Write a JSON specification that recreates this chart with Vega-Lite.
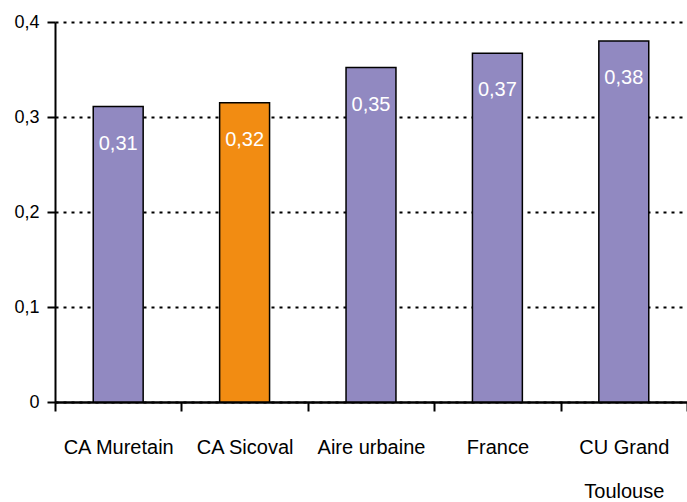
{
  "$schema": "https://vega.github.io/schema/vega-lite/v6.json",
  "width": 632,
  "height": 380,
  "autosize": "none",
  "padding": {"left": 55, "top": 22, "right": 0, "bottom": 100},
  "background": "white",
  "config": {
    "view": {"stroke": null},
    "font": "Liberation Sans Narrow, Liberation Sans, Arial, sans-serif"
  },
  "data": {
    "values": [
      {"zone": "CA Muretain", "valeur": 0.311, "etiquette": "0,31", "groupe": "autre"},
      {"zone": "CA Sicoval", "valeur": 0.315, "etiquette": "0,32", "groupe": "Sicoval"},
      {"zone": "Aire urbaine", "valeur": 0.352, "etiquette": "0,35", "groupe": "autre"},
      {"zone": "France", "valeur": 0.367, "etiquette": "0,37", "groupe": "autre"},
      {"zone": "CU Grand Toulouse", "valeur": 0.380, "etiquette": "0,38", "groupe": "autre"}
    ]
  },
  "encoding": {
    "x": {
      "field": "zone",
      "type": "nominal",
      "sort": null,
      "scale": {"paddingInner": 0, "paddingOuter": 0},
      "axis": {
        "title": null,
        "labelAngle": 0,
        "labelFont": "Liberation Sans Narrow, Liberation Sans, Arial, sans-serif",
        "labelFontSize": 20,
        "labelColor": "black",
        "labelPadding": 42,
        "labelLineHeight": 44,
        "labelBaseline": "alphabetic",
        "labelExpr": "datum.value == 'CU Grand Toulouse' ? ['CU Grand', 'Toulouse'] : datum.label",
        "tickBand": "extent",
        "tickSize": 9,
        "tickWidth": 2,
        "tickColor": "black",
        "domainColor": "black",
        "domainWidth": 2.5
      }
    },
    "y": {
      "field": "valeur",
      "type": "quantitative",
      "scale": {"domain": [0, 0.4], "nice": false},
      "axis": {
        "title": null,
        "values": [0, 0.1, 0.2, 0.3, 0.4],
        "labelExpr": "datum.value == 0 ? '0' : replace(format(datum.value, '.1f'), '.', ',')",
        "labelFont": "Liberation Sans Narrow, Liberation Sans, Arial, sans-serif",
        "labelFontSize": 18,
        "labelColor": "black",
        "labelPadding": 8,
        "tickSize": 8,
        "tickWidth": 2,
        "tickColor": "black",
        "domainColor": "black",
        "domainWidth": 2,
        "grid": true,
        "gridColor": "black",
        "gridWidth": 2,
        "gridDash": [3, 5]
      }
    }
  },
  "layer": [
    {
      "mark": {"type": "bar", "stroke": "black", "strokeWidth": 1.5, "width": {"band": 0.395}},
      "encoding": {
        "color": {
          "field": "groupe",
          "type": "nominal",
          "scale": {"domain": ["autre", "Sicoval"], "range": ["#9189C1", "#F28C12"]},
          "legend": null
        }
      }
    },
    {
      "mark": {
        "type": "text",
        "color": "white",
        "fontSize": 20,
        "baseline": "middle",
        "dy": 37,
        "font": "Liberation Sans Narrow, Liberation Sans, Arial, sans-serif"
      },
      "encoding": {"text": {"field": "etiquette"}}
    }
  ]
}
